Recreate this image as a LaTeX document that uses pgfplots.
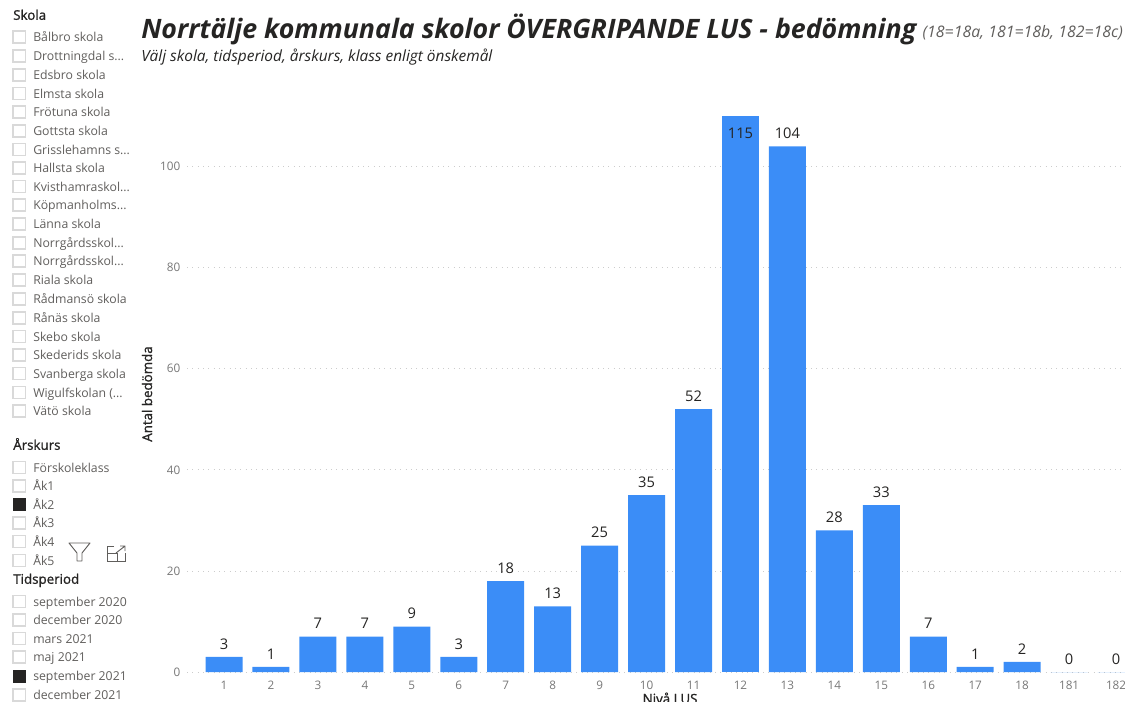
\documentclass[border=0pt]{standalone}
\usepackage{fontspec}
\usepackage{pgfplots}
\pgfplotsset{compat=1.18}
\setmainfont{Open Sans}
\newfontfamily\semib[FakeBold=1.2]{Open Sans}
\definecolor{barblue}{HTML}{3B8DF7}
\definecolor{ink}{HTML}{252423}
\definecolor{slicer}{HTML}{605E5C}
\definecolor{ticktext}{HTML}{777777}
\definecolor{boxline}{HTML}{D9D9D9}
\newcommand{\fs}[1]{\fontsize{#1}{#1}\selectfont}

\pgfplotstableread{
idx val
0 3
1 1
2 7
3 7
4 9
5 3
6 18
7 13
8 25
9 35
10 52
12 104
13 28
14 33
15 7
16 1
17 2
18 0
19 0
}\lusdata

\newcommand{\slicerbox}[2]{%
  \draw[boxline,line width=0.8pt] (13,#1-6) rectangle (25.5,#1+6);
  \node[anchor=base west,inner sep=0pt,text=slicer,font=\fs{9.2}] at (33,#1+4.8) {#2};}
\newcommand{\slicerchecked}[2]{%
  \fill[ink] (12.5,#1-6.5) rectangle (26,#1+6.5);
  \node[anchor=base west,inner sep=0pt,text=slicer,font=\fs{9.2}] at (33,#1+4.8) {#2};}
\newcommand{\slicerhead}[2]{%
  \node[anchor=base west,inner sep=0pt,text=ink,font=\fs{10}\semib] at (13,#1+4.8) {#2};}

\begin{document}
\begin{tikzpicture}[x=0.75pt,y=-0.75pt]
\useasboundingbox (0,0) rectangle (1125,701);

\begin{axis}[
  at={(140.25pt,-504pt)},
  anchor=south west,
  scale only axis,
  width=703.5pt,
  height=417pt,
  xmin=-0.788,
  xmax=19.19,
  ymin=0,
  ymax=110,
  ybar,
  bar width=27.75pt,
  bar shift=0pt,
  xtick={0,...,19},
  xticklabels={1,2,3,4,5,6,7,8,9,10,11,12,13,14,15,16,17,18,181,182},
  ytick={0,20,40,60,80,100},
  ymajorgrids,
  grid style={color=black!20,line width=0.6pt,dash pattern=on 0.8pt off 3.2pt},
  axis line style={draw=none},
  tick style={draw=none},
  /pgf/number format/assume math mode=true,
  tick label style={font=\fs{8.8},text=ticktext},
  xticklabel style={yshift=1pt},
  yticklabel style={xshift=-1.5pt},
  ylabel={Antal bedömda},
  ylabel style={font=\fs{10}\semib,text=ink,at={(axis description cs:-0.0426,0.5)},anchor=center},
  xlabel={Nivå LUS},
  xlabel style={font=\fs{10}\semib,text=ink,at={(axis description cs:0.515,-0.047)},anchor=center},
  nodes near coords={\pgfmathprintnumber[assume math mode=true]{\pgfplotspointmeta}},
  nodes near coords style={font=\fs{11},text=ink,anchor=center,yshift=9.8pt},
]
\addplot[draw=none,fill=barblue] table[x=idx,y=val] {\lusdata};
% level 12 runs past the top of the axis: bar clipped at ymax, no label of its own
\addplot[draw=none,fill=barblue,nodes near coords={}] coordinates {(11,115)};
% its label 115 sits inside the bar
\addplot[draw=none,fill=barblue,point meta=explicit] coordinates {(11,104) [115]};
\end{axis}

% title block
\node[anchor=base west,inner sep=0pt,text=ink,font=\fs{20.05}\bfseries\itshape] at (141,38) {Norrtälje kommunala skolor ÖVERGRIPANDE LUS - bedömning};
\node[anchor=base east,inner sep=0pt,text=slicer,font=\fs{11.9}\itshape] at (1123,37) {(18=18a, 181=18b, 182=18c)};
\node[anchor=base west,inner sep=0pt,text=ink,font=\fs{11.55}\itshape] at (141,61) {Välj skola, tidsperiod, årskurs, klass enligt önskemål};

% slicers
\slicerhead{15}{Skola}
\slicerbox{37}{Bålbro skola}
\slicerbox{56}{Drottningdal s...}
\slicerbox{75}{Edsbro skola}
\slicerbox{93.5}{Elmsta skola}
\slicerbox{112}{Frötuna skola}
\slicerbox{131}{Gottsta skola}
\slicerbox{149.5}{Grisslehamns s...}
\slicerbox{168}{Hallsta skola}
\slicerbox{186.5}{Kvisthamraskol...}
\slicerbox{205}{Köpmanholms...}
\slicerbox{224}{Länna skola}
\slicerbox{243}{Norrgårdsskol...}
\slicerbox{261}{Norrgårdsskol...}
\slicerbox{280}{Riala skola}
\slicerbox{299}{Rådmansö skola}
\slicerbox{318}{Rånäs skola}
\slicerbox{336.5}{Skebo skola}
\slicerbox{355}{Skederids skola}
\slicerbox{373.5}{Svanberga skola}
\slicerbox{392.5}{Wigulfskolan (...}
\slicerbox{411}{Vätö skola}

\slicerhead{445}{Årskurs}
\slicerbox{467.5}{Förskoleklass}
\slicerbox{486}{Åk1}
\slicerchecked{504.5}{Åk2}
\slicerbox{523}{Åk3}
\slicerbox{541.5}{Åk4}
\slicerbox{560.5}{Åk5}

\slicerhead{579}{Tidsperiod}
\slicerbox{601.5}{september 2020}
\slicerbox{620}{december 2020}
\slicerbox{638.5}{mars 2021}
\slicerbox{657}{maj 2021}
\slicerchecked{676}{september 2021}
\slicerbox{695}{december 2021}

% visual header icons
\draw[slicer,line width=0.7pt,line join=round] (69,543) -- (90,543) -- (82,553) -- (82,561) -- (77,561) -- (77,553) -- cycle;
\draw[slicer,line width=0.7pt] (114,546) -- (107,546) -- (107,561) -- (125,561) -- (125,553);
\draw[slicer,line width=0.7pt] (107,553) -- (117,553) -- (117,561);
\draw[slicer,line width=0.7pt] (116,553) -- (125,546) (120,546) -- (125,546) -- (125,551);
\end{tikzpicture}
\end{document}
